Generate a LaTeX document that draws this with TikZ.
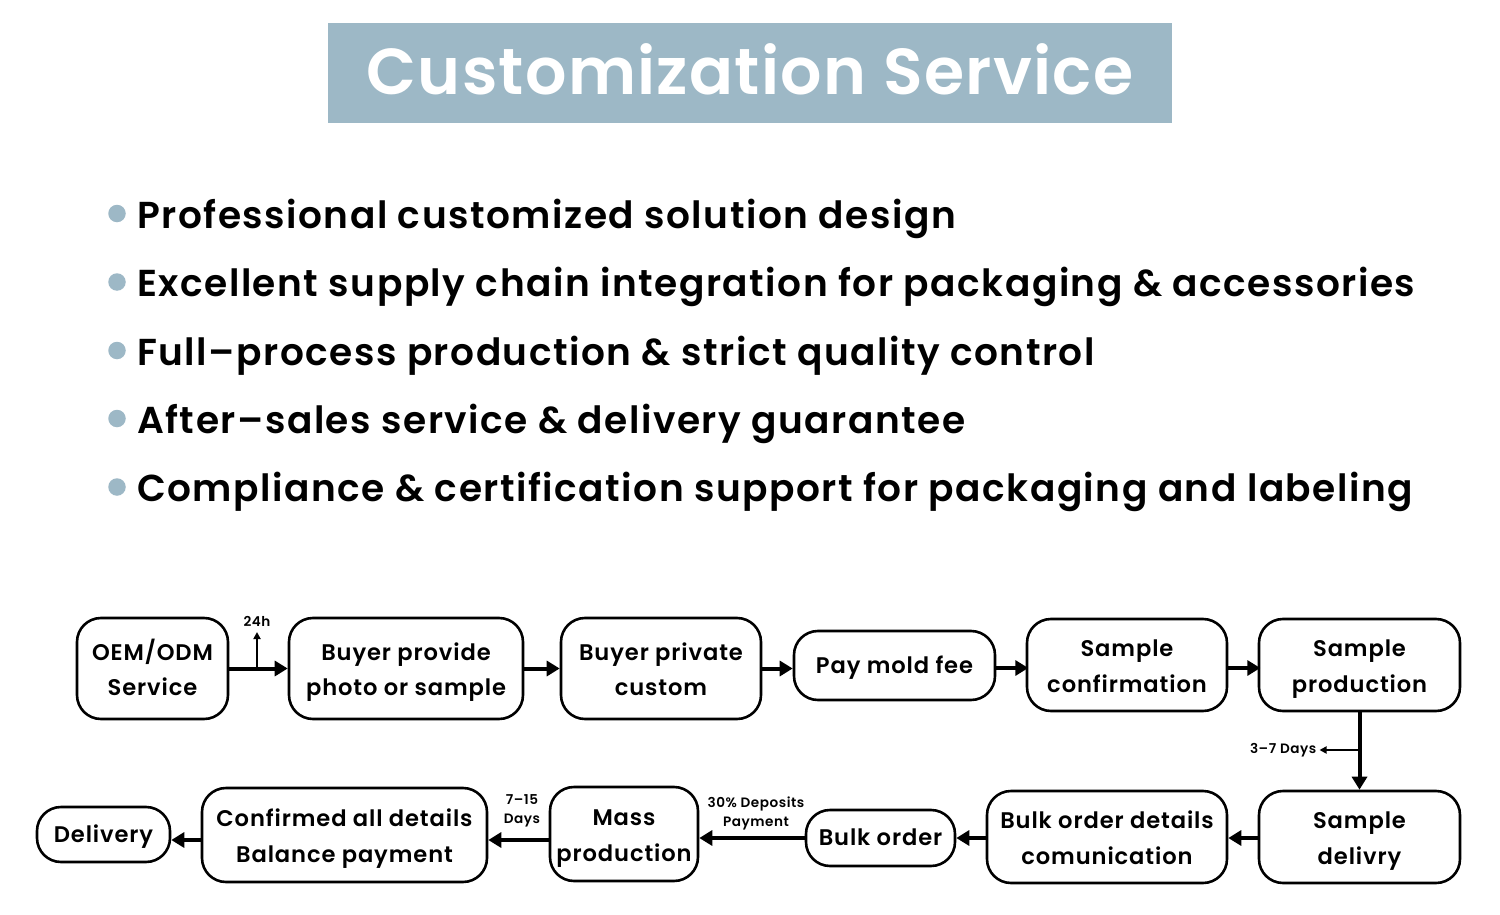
\documentclass[tikz,border=0pt]{standalone}
\usepackage{fontspec}
\setmainfont{Poppins}[BoldFont={Poppins SemiBold}, LetterSpace=4]
\usetikzlibrary{arrows.meta,positioning}

\newlength{\du}
\setlength{\du}{1pt}

\definecolor{bannercolor}{HTML}{9DB8C6}
\tikzset{
  stepbox/.style={draw=black, line width=2.6\du, rounded corners=24\du, align=center,
    inner sep=0pt, font=\fontsize{22.6}{35.5}\selectfont\bfseries,
    text height=54pt, text depth=0pt},
  oneline/.style={text height=15pt, text depth=0pt},
  flow/.style={line width=4\du, -{Triangle[width=15pt,length=13pt]}},
  tick/.style={line width=2\du, -{Triangle[width=7pt,length=7pt]}},
  smalltext/.style={font=\fontsize{13.6}{19}\selectfont\bfseries, align=center, inner sep=0pt},
  bullettext/.style={anchor=base west, inner sep=0pt, font=\fontsize{37.5}{37.5}\selectfont\bfseries},
  dot/.style={circle, fill=bannercolor, minimum size=17.5\du, inner sep=0pt}
}

\begin{document}
\begin{tikzpicture}[x=1\du, y=-1\du]
\useasboundingbox[fill=white] (0,0) rectangle (1500,915);

% title
\node[fill=bannercolor, minimum width=844\du, minimum height=100\du] (banner) at (750,73) {};
\node[anchor=base, inner sep=0pt, text=white, font=\fontsize{65}{65}\selectfont\bfseries\addfontfeatures{LetterSpace=2}]
  (title) at (750,95) {Customization Service};

% bullets
\foreach \yy/\txt [count=\i] in {228/Professional customized solution design,
    296.5/Excellent supply chain integration for packaging \& accessories,
    365/Full--process production \& strict quality control,
    433/After--sales service \& delivery guarantee,
    501.5/Compliance \& certification support for packaging and labeling}{
  \node[dot] (dot\i) at (117,\yy-14.5) {};
  \node[bullettext] (item\i) at (137,\yy) {\txt};
}

% first row
\node[stepbox, minimum width=151\du, minimum height=101\du] (oem) at (152.5,668.5) {OEM/ODM\\Service};
\node[stepbox, minimum width=234\du, minimum height=101\du] (photo) at (406,668.5) {Buyer provide\\photo or sample};
\node[stepbox, minimum width=200\du, minimum height=101\du] (private) at (661,668.5) {Buyer private\\custom};
\node[stepbox, oneline, minimum width=201\du, minimum height=69\du] (mold) at (894.5,665.5) {Pay mold fee};
\node[stepbox, minimum width=200\du, minimum height=92\du] (sconf) at (1127,665) {Sample\\confirmation};
\node[stepbox, minimum width=201\du, minimum height=92\du] (sprod) at (1359.5,665) {Sample\\production};

% second row
\node[stepbox, minimum width=201\du, minimum height=92\du] (sdeliv) at (1359.5,837) {Sample\\delivry};
\node[stepbox, minimum width=240\du, minimum height=92\du] (bulkdet) at (1107,837) {Bulk order details\\comunication};
\node[stepbox, oneline, minimum width=149\du, minimum height=56\du] (bulk) at (880.5,838) {Bulk order};
\node[stepbox, minimum width=148\du, minimum height=94\du] (mass) at (624,834) {Mass\\production};
\node[stepbox, minimum width=285\du, minimum height=94\du] (confirm) at (344.5,835) {Confirmed all details\\Balance payment};
\node[stepbox, oneline, minimum width=133\du, minimum height=55\du] (deliv) at (103.5,834.5) {Delivery};

% connectors
\coordinate (t24) at (257,668);
\draw[flow] (oem.east) -- (photo.west);
\draw[tick] (t24) -- ++(0,-36) coordinate (t24top);
\node[smalltext, anchor=south] (l24) at ([yshift=5pt]t24top) {24h};
\draw[flow] (photo.east) -- (private.west);
\draw[flow] (private.east) -- (private.east -| mold.west);
\draw[flow] (mold.east |- sconf.west) ++(0,3) -- ++(32,0);
\draw[flow] (sconf.east) ++(0,3) -- ++(32,0);
\draw[flow] (sprod.south) -- (sdeliv.north);
\coordinate (t37) at (1359.5,750);
\draw[tick] (t37) -- ++(-40,0) coordinate (t37end);
\node[smalltext, anchor=east] (l37) at ([xshift=-3pt]t37end) {3--7 Days};
\draw[flow] (sdeliv.west |- bulk.east) -- (bulkdet.east |- bulk.east);
\draw[flow] (bulkdet.west |- bulk.east) -- (bulk.east);
\draw[flow] (bulk.west) -- (bulk.west -| mass.east);
\node[smalltext] (ldep) at (756,813) {30\% Deposits\\Payment};
\draw[flow] (mass.west |- 0,840) -- (confirm.east |- 0,840);
\node[smalltext] (l715) at (522,811) {7--15\\Days};
\draw[flow] (confirm.west |- 0,840) -- (deliv.east |- 0,840);
\end{tikzpicture}
\end{document}
